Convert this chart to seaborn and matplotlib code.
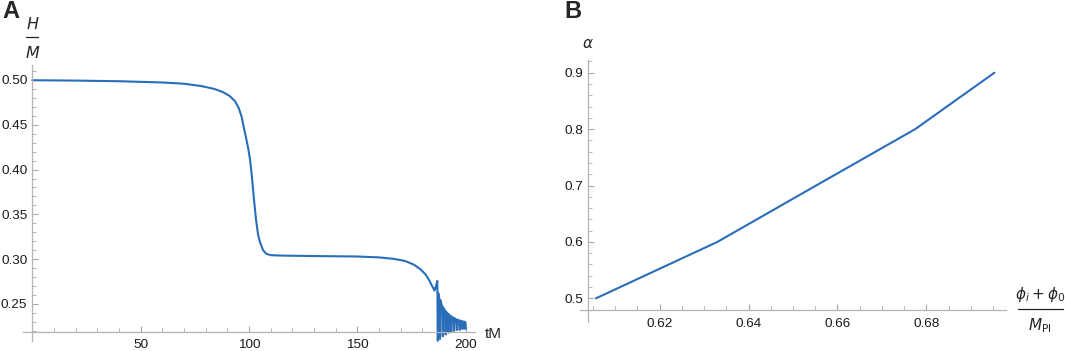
import numpy as np
import pandas as pd
import seaborn as sns
from matplotlib import pyplot as plt
from matplotlib.lines import Line2D
from matplotlib.ticker import FixedLocator, FormatStrFormatter

# panel A: H/M against tM
t_main = [0, 20, 40, 60, 70, 78, 84, 88, 91, 93.5, 95.2, 96.6, 97.5, 98.6, 99.6,
          100.5, 101.3, 102.2, 103.2, 104.2, 105.2, 106.5, 108, 110, 115, 130,
          150, 160, 167, 172, 176, 179, 181.5, 183.3, 184.4]
h_main = [0.4997, 0.4993, 0.4986, 0.4972, 0.4958, 0.4932, 0.4900, 0.4865, 0.4822,
          0.4765, 0.4690, 0.4590, 0.4480, 0.4360, 0.4240, 0.4110, 0.3930, 0.3690,
          0.3450, 0.3270, 0.3180, 0.3100, 0.3060, 0.3045, 0.3040, 0.3035, 0.3030,
          0.3020, 0.3003, 0.2980, 0.2940, 0.2890, 0.2830, 0.2760, 0.2705]
t_tail = [185.1, 185.6, 186.3, 186.9, 187.15, 187.35, 187.9, 188.15, 188.35,
          189.2, 189.45, 189.65, 190.5, 190.75, 190.95, 191.8, 192.05, 192.25,
          193.1, 193.35, 193.55, 194.4, 194.65, 194.85, 195.7, 195.95, 196.15,
          197.0, 197.25, 197.45, 198.3, 198.55, 198.75, 199.6, 199.85, 200.0]
h_tail = [0.2675, 0.2650, 0.2700, 0.2757, 0.2090, 0.2620, 0.2550, 0.2110, 0.2540,
          0.2470, 0.2140, 0.2460, 0.2420, 0.2160, 0.2415, 0.2390, 0.2180, 0.2385,
          0.2360, 0.2190, 0.2360, 0.2340, 0.2200, 0.2340, 0.2325, 0.2210, 0.2325,
          0.2315, 0.2210, 0.2315, 0.2305, 0.2220, 0.2305, 0.2300, 0.2220, 0.2290]

# panel B: alpha against (phi_i + phi_0)/M_Pl
phi = [0.6057, 0.6330, 0.6552, 0.6775, 0.6953]
alpha = [0.5, 0.6, 0.7, 0.8, 0.9]

df_a = pd.DataFrame({"tM": t_main + t_tail, "HM": h_main + h_tail})
df_b = pd.DataFrame({"phi": phi, "alpha": alpha})

sns.set_style("white")
plt.rcParams["font.family"] = ["Liberation Sans", "DejaVu Sans"]
plt.rcParams["mathtext.fontset"] = "dejavusans"

W, H = 1065, 351
fig = plt.figure(figsize=(W / 100, H / 100), dpi=100)
blue = "#2a6db8"
axcol = "#b4b4b4"


def px(x, y):
    return x / W, 1 - y / H


def style(ax):
    for s in ["top", "right"]:
        ax.spines[s].set_visible(False)
    for s in ["left", "bottom"]:
        ax.spines[s].set_color(axcol)
        ax.spines[s].set_linewidth(0.9)
    ax.tick_params(which="both", direction="in", color="#a8a8a8", labelsize=9.7,
                   labelcolor="#1a1a1a", bottom=True, left=True)
    ax.tick_params(which="major", length=4.5, width=0.8)
    ax.tick_params(which="minor", length=2.6, width=0.6)
    ax.tick_params(axis="y", pad=3.5)
    ax.tick_params(axis="x", pad=5.5)
    ax.set_xlabel("")
    ax.set_ylabel("")


# ---- panel A
ax1 = fig.add_axes([23 / W, 1 - 341 / H, 452 / W, 276 / H])
sns.lineplot(data=df_a, x="tM", y="HM", ax=ax1, color=blue, lw=1.5,
             sort=False, estimator=None, clip_on=False)
ax1.set_xlim(-4.3, 204.3)
ax1.set_ylim(0.2087, 0.5167)
ax1.spines["left"].set_position(("data", 0))
ax1.spines["bottom"].set_position(("data", 0.2191))
ax1.xaxis.set_major_locator(FixedLocator([50, 100, 150, 200]))
ax1.xaxis.set_minor_locator(FixedLocator(np.arange(10, 201, 10)))
ax1.yaxis.set_major_locator(FixedLocator([0.25, 0.30, 0.35, 0.40, 0.45, 0.50]))
ax1.yaxis.set_minor_locator(FixedLocator(np.arange(0.22, 0.515, 0.01)))
ax1.yaxis.set_major_formatter(FormatStrFormatter("%.2f"))
style(ax1)

fig.text(*px(485, 334), "tM", fontsize=11, ha="left", va="center")
fig.text(*px(32.5, 24), "$H$", fontsize=11.5, ha="center", va="center")
fig.add_artist(Line2D([26 / W, 37.5 / W], [1 - 37.3 / H] * 2, color="#222222", lw=0.9))
fig.text(*px(32.5, 52.5), "$M$", fontsize=11.5, ha="center", va="center")
fig.text(*px(10.5, 11.5), "A", fontsize=17, fontweight="bold", ha="center", va="center")

# ---- panel B
ax2 = fig.add_axes([580 / W, 1 - 322 / H, 426 / W, 262 / H])
sns.lineplot(data=df_b, x="phi", y="alpha", ax=ax2, color=blue, lw=1.5,
             sort=False, estimator=None)
ax2.set_xlim(0.6021, 0.6979)
ax2.set_ylim(0.458, 0.9225)
ax2.spines["left"].set_position(("data", 0.604))
ax2.spines["bottom"].set_position(("data", 0.4793))
ax2.xaxis.set_major_locator(FixedLocator([0.62, 0.64, 0.66, 0.68]))
ax2.xaxis.set_minor_locator(FixedLocator(np.arange(0.605, 0.696, 0.005)))
ax2.yaxis.set_major_locator(FixedLocator([0.5, 0.6, 0.7, 0.8, 0.9]))
ax2.yaxis.set_minor_locator(FixedLocator(np.arange(0.48, 0.921, 0.02)))
ax2.xaxis.set_major_formatter(FormatStrFormatter("%.2f"))
ax2.yaxis.set_major_formatter(FormatStrFormatter("%.1f"))
style(ax2)

fig.text(*px(588, 43.5), r"$\alpha$", fontsize=11, ha="center", va="center")
fig.text(*px(1040, 295), r"$\phi_i + \phi_0$", fontsize=11, ha="center", va="center")
fig.add_artist(Line2D([1018 / W, 1063 / W], [1 - 309 / H] * 2, color="#222222", lw=0.9))
fig.text(*px(1040, 326), r"$M_{\mathrm{Pl}}$", fontsize=11, ha="center", va="center")
fig.text(*px(572.5, 11.5), "B", fontsize=17, fontweight="bold", ha="center", va="center")

fig.savefig("out.png", dpi=100)
